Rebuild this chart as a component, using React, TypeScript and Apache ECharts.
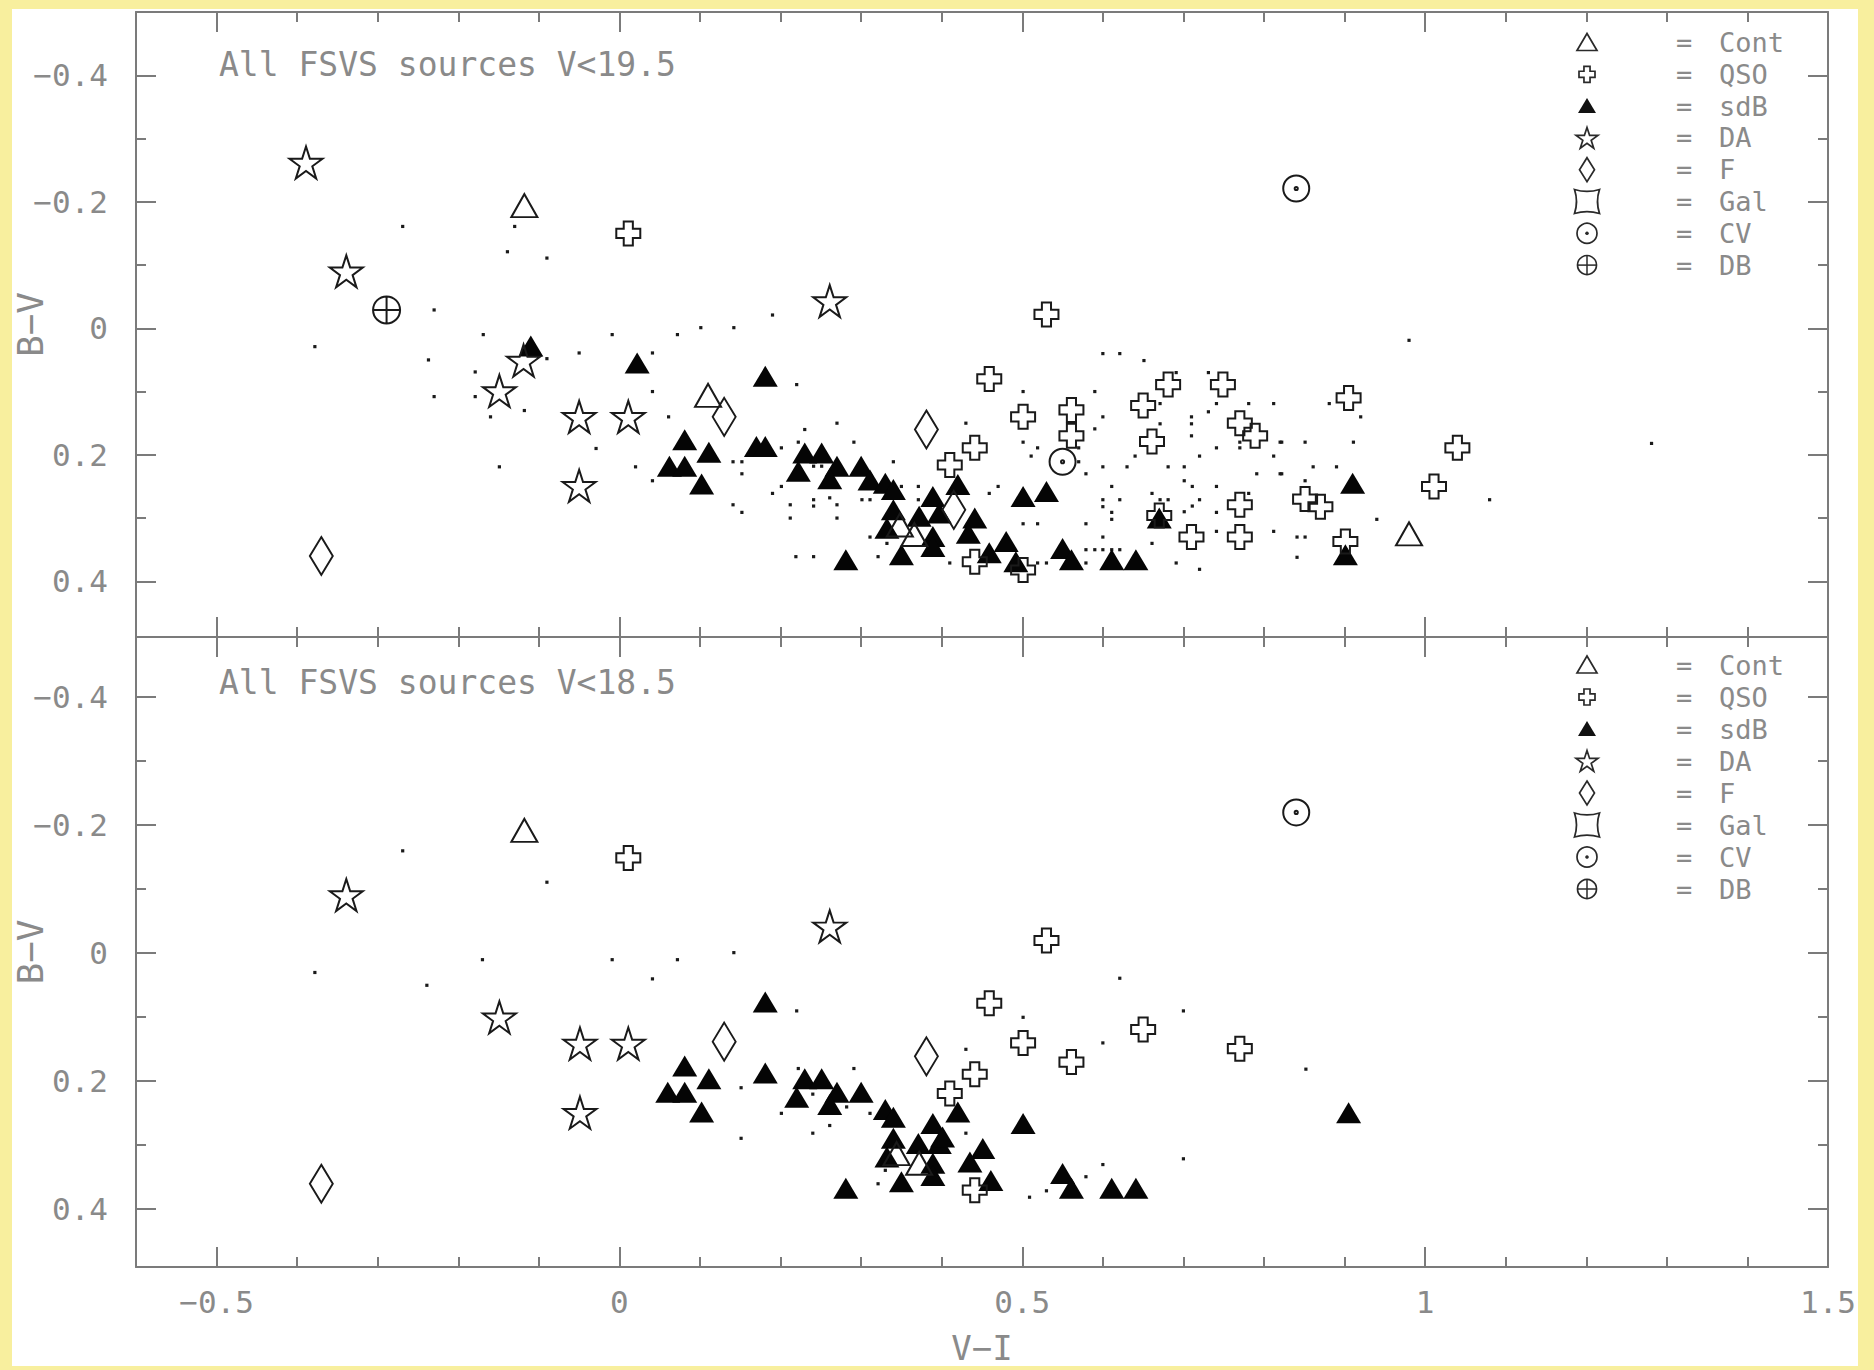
import React, { useEffect, useRef } from 'react';
import * as echarts from 'echarts';

const W = 1874;
const H = 1370;

// ---------- text ----------
const legendNames = ['Cont', 'QSO', 'sdB', 'DA', 'F', 'Gal', 'CV', 'DB'];
const panelTitles = ['All FSVS sources V<19.5', 'All FSVS sources V<18.5'];
const xName = 'V\u2212I';
const yName = 'B\u2212V';

// ---------- axis ranges ----------
const xRange = [-0.6, 1.5];
const yRangeTop = [-0.5, 0.488];
const yRangeBottom = [-0.493, 0.491];

// ---------- panel 1 : V<19.5 ----------
const p1Cont = [[-0.118, -0.194], [0.110, 0.106], [0.348, 0.311], [0.366, 0.326], [0.980, 0.325]];
const p1QSO = [
  [0.011, -0.150], [0.530, -0.022], [0.459, 0.080], [0.501, 0.140], [0.561, 0.129], [0.561, 0.170],
  [0.441, 0.189], [0.410, 0.216], [0.650, 0.122], [0.681, 0.089], [0.749, 0.089], [0.661, 0.179],
  [0.770, 0.150], [0.789, 0.170], [0.905, 0.110], [0.770, 0.279], [0.770, 0.330], [0.710, 0.330],
  [0.851, 0.270], [0.870, 0.282], [0.441, 0.369], [0.501, 0.382], [0.901, 0.337], [1.040, 0.189],
  [1.011, 0.250], [0.670, 0.296],
];
const p1SdB = [
  [-0.110, 0.028], [0.022, 0.055], [0.181, 0.076], [0.081, 0.176], [0.111, 0.196], [0.062, 0.218],
  [0.081, 0.218], [0.102, 0.246], [0.170, 0.187], [0.181, 0.187], [0.230, 0.197], [0.251, 0.197],
  [0.222, 0.226], [0.270, 0.218], [0.261, 0.238], [0.300, 0.218], [0.311, 0.240], [0.330, 0.245],
  [0.340, 0.255], [0.389, 0.266], [0.340, 0.287], [0.372, 0.297], [0.397, 0.292], [0.332, 0.316],
  [0.389, 0.329], [0.389, 0.345], [0.350, 0.358], [0.281, 0.366], [0.420, 0.247], [0.441, 0.300],
  [0.433, 0.324], [0.480, 0.337], [0.459, 0.355], [0.492, 0.369], [0.501, 0.266], [0.530, 0.258],
  [0.550, 0.348], [0.561, 0.366], [0.611, 0.366], [0.641, 0.366], [0.670, 0.300], [0.910, 0.245],
  [0.901, 0.358],
];
const p1DA = [[-0.389, -0.262], [-0.339, -0.090], [-0.119, 0.051], [-0.149, 0.099], [-0.050, 0.140], [0.011, 0.140], [-0.050, 0.249], [0.261, -0.043]];
const p1F = [[-0.370, 0.360], [0.130, 0.140], [0.381, 0.160], [0.415, 0.287]];
const p1Gal: number[][] = [];
const p1CV = [[0.840, -0.221], [0.550, 0.211]];
const p1DB = [[-0.289, -0.029]];
const p1Dots = [
  [-0.269, -0.161], [-0.130, -0.161], [-0.139, -0.121], [-0.090, -0.111], [-0.378, 0.029], [-0.230, -0.029],
  [-0.169, 0.010], [-0.237, 0.050], [-0.179, 0.069], [-0.230, 0.108], [-0.179, 0.108], [-0.160, 0.140],
  [-0.118, 0.130], [-0.149, 0.219], [-0.050, 0.039], [-0.009, 0.010], [-0.090, 0.048], [-0.029, 0.190],
  [0.020, 0.219], [0.041, 0.241], [0.041, 0.100], [0.061, 0.140], [0.072, 0.010], [0.041, 0.039],
  [0.101, -0.001], [0.142, -0.001], [0.190, -0.021], [0.220, 0.089], [0.270, 0.150], [0.230, 0.160],
  [0.291, 0.180], [0.201, 0.189], [0.222, 0.180], [0.141, 0.211], [0.152, 0.211], [0.152, 0.230],
  [0.201, 0.250], [0.190, 0.261], [0.241, 0.218], [0.251, 0.218], [0.340, 0.211], [0.212, 0.279],
  [0.241, 0.271], [0.261, 0.268], [0.270, 0.279], [0.301, 0.271], [0.311, 0.271], [0.241, 0.281],
  [0.141, 0.279], [0.152, 0.291], [0.212, 0.300], [0.270, 0.300], [0.219, 0.361], [0.241, 0.361],
  [0.321, 0.361], [0.311, 0.330], [0.350, 0.250], [0.371, 0.250], [0.371, 0.271], [0.332, 0.340],
  [0.600, 0.040], [0.621, 0.040], [0.651, 0.051], [0.501, 0.100], [0.590, 0.100], [0.691, 0.070],
  [0.731, 0.070], [0.731, 0.132], [0.741, 0.119], [0.781, 0.119], [0.812, 0.119], [0.671, 0.119],
  [0.671, 0.151], [0.710, 0.140], [0.710, 0.151], [0.710, 0.170], [0.600, 0.140], [0.590, 0.159],
  [0.430, 0.150], [0.501, 0.180], [0.519, 0.189], [0.511, 0.202], [0.570, 0.189], [0.570, 0.211],
  [0.579, 0.230], [0.600, 0.219], [0.630, 0.219], [0.640, 0.202], [0.681, 0.219], [0.701, 0.219],
  [0.720, 0.202], [0.741, 0.189], [0.770, 0.180], [0.770, 0.189], [0.812, 0.202], [0.820, 0.180],
  [0.791, 0.230], [0.820, 0.230], [0.701, 0.241], [0.711, 0.250], [0.741, 0.250], [0.611, 0.250],
  [0.600, 0.271], [0.621, 0.271], [0.600, 0.282], [0.611, 0.291], [0.611, 0.302], [0.661, 0.261],
  [0.671, 0.271], [0.681, 0.271], [0.720, 0.271], [0.701, 0.290], [0.711, 0.281], [0.741, 0.291],
  [0.741, 0.321], [0.812, 0.321], [0.781, 0.261], [0.459, 0.261], [0.470, 0.250], [0.501, 0.309],
  [0.519, 0.309], [0.579, 0.309], [0.600, 0.330], [0.579, 0.350], [0.590, 0.350], [0.600, 0.350],
  [0.611, 0.350], [0.621, 0.350], [0.661, 0.340], [0.579, 0.371], [0.519, 0.371], [0.530, 0.371],
  [0.691, 0.371], [0.720, 0.381], [0.410, 0.371], [0.980, 0.019], [0.881, 0.119], [0.920, 0.140],
  [0.822, 0.180], [0.851, 0.180], [0.911, 0.180], [0.861, 0.219], [0.890, 0.219], [0.822, 0.230],
  [0.851, 0.241], [0.940, 0.302], [0.841, 0.330], [0.851, 0.330], [0.841, 0.362], [1.080, 0.271],
  [1.281, 0.182],
];

// ---------- panel 2 : V<18.5 ----------
const p2Cont = [[-0.118, -0.191], [0.344, 0.314], [0.372, 0.329]];
const p2QSO = [
  [0.011, -0.148], [0.530, -0.019], [0.459, 0.079], [0.501, 0.141], [0.561, 0.171], [0.441, 0.190],
  [0.410, 0.220], [0.650, 0.120], [0.770, 0.150], [0.441, 0.371],
];
const p2SdB = [
  [0.181, 0.077], [0.081, 0.177], [0.111, 0.197], [0.060, 0.218], [0.081, 0.218], [0.102, 0.249],
  [0.181, 0.188], [0.230, 0.197], [0.251, 0.197], [0.220, 0.226], [0.270, 0.218], [0.261, 0.237],
  [0.300, 0.218], [0.330, 0.245], [0.340, 0.257], [0.340, 0.290], [0.332, 0.319], [0.371, 0.298],
  [0.389, 0.267], [0.397, 0.298], [0.389, 0.329], [0.389, 0.348], [0.350, 0.358], [0.281, 0.368],
  [0.420, 0.249], [0.451, 0.306], [0.435, 0.327], [0.461, 0.356], [0.501, 0.267], [0.550, 0.345],
  [0.561, 0.368], [0.611, 0.368], [0.641, 0.368], [0.905, 0.250], [0.401, 0.288],
];
const p2DA = [[-0.339, -0.090], [-0.149, 0.101], [-0.049, 0.142], [0.011, 0.142], [-0.049, 0.250], [0.261, -0.041]];
const p2F = [[-0.370, 0.361], [0.130, 0.139], [0.381, 0.162]];
const p2Gal: number[][] = [];
const p2CV = [[0.840, -0.219]];
const p2DB: number[][] = [];
const p2Dots = [
  [-0.269, -0.159], [-0.090, -0.110], [-0.378, 0.031], [-0.170, 0.011], [-0.239, 0.051], [-0.009, 0.011],
  [0.072, 0.011], [0.041, 0.041], [0.142, 0.000], [0.220, 0.091], [0.151, 0.211], [0.151, 0.290],
  [0.201, 0.251], [0.240, 0.221], [0.240, 0.282], [0.261, 0.270], [0.282, 0.241], [0.291, 0.181],
  [0.222, 0.181], [0.311, 0.251], [0.321, 0.361], [0.330, 0.340], [0.621, 0.040], [0.501, 0.101],
  [0.430, 0.151], [0.600, 0.141], [0.700, 0.091], [0.430, 0.282], [0.600, 0.331], [0.579, 0.350],
  [0.530, 0.372], [0.509, 0.382], [0.700, 0.322], [0.852, 0.182],
];

// ---------- styling ----------
const AXIS_GRAY = '#7b7b7b';
const TEXT_GRAY = '#8a8a8a';
const INK = '#1a1a1a';
const FONT = '"DejaVu Sans Mono", "Liberation Mono", monospace';

const STAR_D = 'M50,0 L61.23,34.55 L97.55,34.55 L68.17,55.9 L79.39,90.45 L50,69.1 L20.61,90.45 L31.83,55.9 L2.45,34.55 L38.77,34.55 Z';
const CROSS_D = 'M31,0 L69,0 L69,31 L100,31 L100,69 L69,69 L69,100 L31,100 L31,69 L0,69 L0,31 L31,31 Z';
const TRI_D = 'M50,0 L100,86.6 L0,86.6 Z';
const DIAMOND_D = 'M50,0 L100,50 L50,100 L0,50 Z';
const GAL_D = 'M0,0 Q50,16 100,0 Q84,50 100,100 Q50,84 0,100 Q16,50 0,0 Z';
const CV_D = 'M0,50 A50,50 0 1,0 100,50 A50,50 0 1,0 0,50 Z M44,50 A6,6 0 1,0 56,50 A6,6 0 1,0 44,50 Z';
const DB_D = 'M0,50 A50,50 0 1,0 100,50 A50,50 0 1,0 0,50 Z M50,0 L50,100 M0,50 L100,50';

echarts.graphic.registerShape('galMark', echarts.graphic.extendPath(GAL_D, {}));

const SYM: Record<string, { symbol: string; size: number[]; filled: boolean }> = {
  Cont: { symbol: 'path://' + TRI_D, size: [26, 23], filled: false },
  QSO: { symbol: 'path://' + CROSS_D, size: [24, 24], filled: false },
  sdB: { symbol: 'triangle', size: [25, 21], filled: true },
  DA: { symbol: 'path://' + STAR_D, size: [33, 32], filled: false },
  F: { symbol: 'path://' + DIAMOND_D, size: [23, 38], filled: false },
  Gal: { symbol: 'path://' + GAL_D, size: [28, 28], filled: false },
  CV: { symbol: 'path://' + CV_D, size: [26, 26], filled: false },
  DB: { symbol: 'path://' + DB_D, size: [27, 27], filled: false },
};

const panels = [
  { dots: p1Dots, sets: { sdB: p1SdB, Cont: p1Cont, QSO: p1QSO, DA: p1DA, F: p1F, Gal: p1Gal, CV: p1CV, DB: p1DB } as Record<string, number[][]> },
  { dots: p2Dots, sets: { sdB: p2SdB, Cont: p2Cont, QSO: p2QSO, DA: p2DA, F: p2F, Gal: p2Gal, CV: p2CV, DB: p2DB } as Record<string, number[][]> },
];

const grids = [
  { left: 136, top: 12, width: 1692, height: 625 },
  { left: 136, top: 637, width: 1692, height: 630 },
];

function fmt(v: number, step: number) {
  const k = v / step;
  if (Math.abs(k - Math.round(k)) > 1e-6) return '';
  const r = Math.round(v * 10) / 10;
  if (Math.abs(r) < 1e-9) return '0';
  return (r < 0 ? '\u2212' : '') + String(Math.abs(r));
}

const lineStyle = { color: AXIS_GRAY, width: 2 };

function xAxis(gridIndex: number, position: 'top' | 'bottom', labels: boolean, named: boolean) {
  return {
    type: 'value', gridIndex, position, min: xRange[0], max: xRange[1], splitNumber: 4,
    axisLine: { show: true, onZero: false, lineStyle },
    axisTick: { show: true, inside: true, length: 20, lineStyle },
    minorTick: { show: true, splitNumber: 5, length: 10, lineStyle },
    splitLine: { show: false },
    axisLabel: {
      show: labels, formatter: (v: number) => fmt(v, 0.5), color: TEXT_GRAY, fontSize: 31,
      fontFamily: FONT, margin: 19,
    },
    name: named ? xName : '', nameLocation: 'middle', nameGap: 64, nameMoveOverlap: false,
    nameTextStyle: { color: TEXT_GRAY, fontSize: 34, fontFamily: FONT },
  };
}

function yAxis(gridIndex: number, position: 'left' | 'right', range: number[], labels: boolean) {
  return {
    type: 'value', gridIndex, position, inverse: true, min: range[0], max: range[1], splitNumber: 5,
    axisLine: { show: true, onZero: false, lineStyle },
    axisTick: { show: true, inside: true, length: 20, lineStyle },
    minorTick: { show: true, splitNumber: 2, length: 10, lineStyle },
    splitLine: { show: false },
    axisLabel: {
      show: labels, formatter: (v: number) => fmt(v, 0.2), color: TEXT_GRAY, fontSize: 31,
      fontFamily: FONT, margin: 28,
    },
    name: labels ? yName : '', nameLocation: 'middle', nameGap: 88, nameMoveOverlap: false,
    nameTextStyle: { color: TEXT_GRAY, fontSize: 36, fontFamily: FONT },
  };
}

function starPts(cx: number, cy: number, R: number) {
  const pts: number[][] = [];
  for (let k = 0; k < 10; k++) {
    const a = ((-90 + 36 * k) * Math.PI) / 180;
    const r = k % 2 ? R * 0.382 : R;
    pts.push([cx + r * Math.cos(a), cy + r * Math.sin(a)]);
  }
  return pts;
}

function crossPts(cx: number, cy: number, s: number) {
  const a = s / 2;
  const b = s * 0.19;
  return [
    [cx - b, cy - a], [cx + b, cy - a], [cx + b, cy - b], [cx + a, cy - b], [cx + a, cy + b], [cx + b, cy + b],
    [cx + b, cy + a], [cx - b, cy + a], [cx - b, cy + b], [cx - a, cy + b], [cx - a, cy - b], [cx - b, cy - b],
  ];
}

function legendSymbol(name: string, cx: number, cy: number): any {
  const st = { fill: 'none', stroke: '#2a2a2a', lineWidth: 1.7 };
  switch (name) {
    case 'Cont':
      return { type: 'polygon', shape: { points: [[cx - 10, cy + 8], [cx + 10, cy + 8], [cx, cy - 9]] }, style: st };
    case 'QSO':
      return { type: 'polygon', shape: { points: crossPts(cx, cy, 16) }, style: st };
    case 'sdB':
      return { type: 'polygon', shape: { points: [[cx - 9, cy + 7], [cx + 9, cy + 7], [cx, cy - 8]] }, style: { fill: '#111' } };
    case 'DA':
      return { type: 'polygon', shape: { points: starPts(cx, cy + 1, 11.5) }, style: st };
    case 'F':
      return { type: 'polygon', shape: { points: [[cx, cy - 12], [cx + 7.5, cy], [cx, cy + 12], [cx - 7.5, cy]] }, style: st };
    case 'Gal':
      return { type: 'galMark', x: cx - 12.5, y: cy - 12, scaleX: 0.25, scaleY: 0.24, style: { fill: 'none', stroke: '#2a2a2a', lineWidth: 7 } };
    case 'CV':
      return {
        type: 'group', children: [
          { type: 'circle', shape: { cx, cy, r: 10 }, style: st },
          { type: 'circle', shape: { cx, cy, r: 1.8 }, style: { fill: '#2a2a2a' } },
        ],
      };
    default:
      return {
        type: 'group', children: [
          { type: 'circle', shape: { cx, cy, r: 9.5 }, style: st },
          { type: 'line', shape: { x1: cx, y1: cy - 9.5, x2: cx, y2: cy + 9.5 }, style: { stroke: '#2a2a2a', lineWidth: 1.5 } },
          { type: 'line', shape: { x1: cx - 9.5, y1: cy, x2: cx + 9.5, y2: cy }, style: { stroke: '#2a2a2a', lineWidth: 1.5 } },
        ],
      };
  }
}

function legendEls(y0: number, step: number) {
  const els: any[] = [];
  legendNames.forEach((name, i) => {
    const y = y0 + i * step;
    els.push(legendSymbol(name, 1587, y));
    els.push({ type: 'text', x: 1684, y, style: { text: '=', fill: TEXT_GRAY, fontSize: 27, fontFamily: FONT, align: 'center', verticalAlign: 'middle' } });
    els.push({ type: 'text', x: 1719, y, style: { text: name, fill: TEXT_GRAY, fontSize: 27, fontFamily: FONT, align: 'left', verticalAlign: 'middle' } });
  });
  return els;
}

function buildOption() {
  const series: any[] = [];
  panels.forEach((p, gi) => {
    const xi = gi * 2;
    const yi = gi * 2;
    series.push({
      type: 'scatter', name: 'sources', xAxisIndex: xi, yAxisIndex: yi, data: p.dots,
      symbol: 'rect', symbolSize: 3.2, itemStyle: { color: '#1a1a1a', opacity: 1 }, silent: true, z: 2,
    });
    ['sdB', 'Cont', 'QSO', 'DA', 'F', 'Gal', 'CV', 'DB'].forEach((key) => {
      const s = SYM[key];
      series.push({
        type: 'scatter', name: key, xAxisIndex: xi, yAxisIndex: yi, data: p.sets[key],
        symbol: s.symbol, symbolSize: s.size, silent: true, z: s.filled ? 3 : 4,
        itemStyle: s.filled
          ? { color: '#050505', opacity: 1 }
          : { color: 'rgba(0,0,0,0)', borderColor: INK, borderWidth: 2, opacity: 1 },
      });
    });
  });

  const titleStyle = { fill: TEXT_GRAY, fontSize: 33, fontFamily: FONT, align: 'left', verticalAlign: 'middle' };

  return {
    animation: false,
    grid: grids.map((g) => ({ ...g, containLabel: false, outerBoundsMode: 'none' })),
    xAxis: [
      xAxis(0, 'bottom', false, false),
      xAxis(0, 'top', false, false),
      xAxis(1, 'bottom', true, true),
      xAxis(1, 'top', false, false),
    ],
    yAxis: [
      yAxis(0, 'left', yRangeTop, true),
      yAxis(0, 'right', yRangeTop, false),
      yAxis(1, 'left', yRangeBottom, true),
      yAxis(1, 'right', yRangeBottom, false),
    ],
    graphic: {
      elements: [
        { type: 'text', x: 219, y: 64, style: { text: panelTitles[0], ...titleStyle } },
        { type: 'text', x: 219, y: 682, style: { text: panelTitles[1], ...titleStyle } },
        ...legendEls(42.5, 31.8),
        ...legendEls(665, 32),
      ],
    },
    series,
  };
}

export default function App() {
  const ref = useRef<HTMLDivElement>(null);
  useEffect(() => {
    if (!ref.current) return;
    const chart = echarts.init(ref.current, undefined, { renderer: 'svg' });
    chart.setOption(buildOption() as any);
    return () => chart.dispose();
  }, []);
  return (
    <div style={{ position: 'absolute', left: 0, top: 0, width: W, height: H, background: '#F8EF9E' }}>
      <div style={{ position: 'absolute', left: 12, top: 9, width: 1846, height: 1357, background: '#ffffff' }} />
      <div ref={ref} style={{ position: 'absolute', left: 0, top: 0, width: W, height: H }} />
    </div>
  );
}
